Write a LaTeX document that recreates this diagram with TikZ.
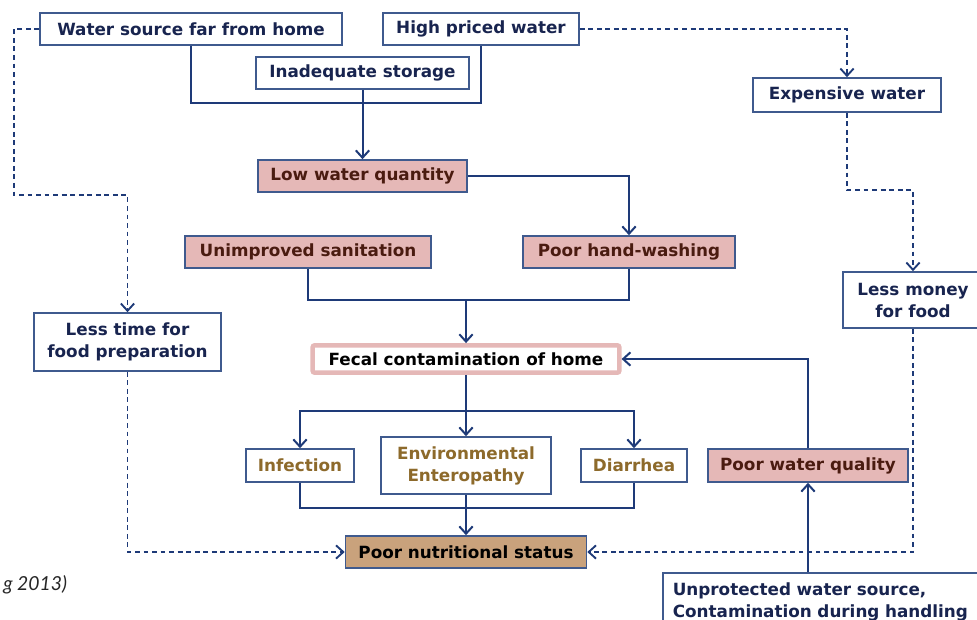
\documentclass[tikz,border=0pt]{standalone}
\usepackage{fontspec}
\setmainfont{DejaVu Sans}
\newfontfamily\citefont{Lato}
\usetikzlibrary{arrows.meta}
\definecolor{navy}{HTML}{1E3A78}
\definecolor{boxline}{HTML}{3F5A8E}
\definecolor{txtnavy}{HTML}{18244F}
\definecolor{pinkfill}{HTML}{E5B8B7}
\definecolor{pinktxt}{HTML}{4A1B10}
\definecolor{goldtxt}{HTML}{8D6A2B}
\definecolor{tanfill}{HTML}{C9A27C}
\tikzset{
  bx/.style={draw=boxline, line width=1.2pt, fill=white, inner sep=0pt, align=center,
    font=\bfseries\fontsize{12.6}{16.5}\selectfont, text=txtnavy},
  pbx/.style={bx, fill=pinkfill, text=pinktxt},
  gbx/.style={bx, text=goldtxt},
  conn/.style={draw=navy, line width=1.5pt, -{Straight Barb[length=5.5pt,width=10pt,line width=1.5pt]}},
  plain/.style={draw=navy, line width=1.5pt},
  dsh/.style={draw=navy, line width=1.4pt, dash pattern=on 3.6pt off 2.8pt,
    -{Straight Barb[length=5.5pt,width=10pt,line width=1.4pt]}},
}
\begin{document}
\begin{tikzpicture}[x=0.75pt,y=-0.75pt]
\useasboundingbox (0,0) rectangle (977,620);
\clip (0,0) rectangle (977,620);
% nodes
\node[bx, minimum width=226.5pt, minimum height=24pt] (ws) at (191,29) {Water source far from home};
\node[bx, minimum width=147pt, minimum height=24pt] (hp) at (481,29) {High priced water};
\node[bx, minimum width=159.75pt, minimum height=24pt] (st) at (362.5,73) {Inadequate storage};
\node[pbx, minimum width=156.75pt, minimum height=24pt] (lwq) at (362.5,176) {Low water quantity};
\node[pbx, minimum width=184.5pt, minimum height=24pt] (us) at (308,252) {Unimproved sanitation};
\node[pbx, minimum width=159pt, minimum height=24pt] (ph) at (629,252) {Poor hand-washing};
\node[bx, draw=pinkfill, line width=3.4pt, rounded corners=1.5pt, text=black,
      minimum width=230pt, minimum height=20.5pt] (fc) at (466,359) {Fecal contamination of home};
\node[bx, minimum width=140.25pt, minimum height=43.5pt] (lt) at (127.5,342) {Less time for\\food preparation};
\node[bx, minimum width=141pt, minimum height=25.5pt] (ew) at (847,95) {Expensive water};
\node[bx, minimum width=105pt, minimum height=42pt] (lm) at (913,300) {Less money\\for food};
\node[gbx, minimum width=81pt, minimum height=24.75pt] (inf) at (300,465.5) {Infection};
\node[gbx, minimum width=127.5pt, minimum height=42.75pt] (ee) at (466,465.5) {Environmental\\Enteropathy};
\node[gbx, minimum width=79.5pt, minimum height=24.75pt] (dia) at (634,465.5) {Diarrhea};
\node[bx, fill=tanfill, text=black, minimum width=180.75pt, minimum height=24pt] (pns) at (466,552) {Poor nutritional status};
\node[pbx, minimum width=150pt, minimum height=24.75pt] (pwq) at (808,465.5) {Poor water quality};
\node[bx, anchor=north west, align=left, text width=240pt, inner xsep=7.5pt,
      minimum width=255pt, minimum height=43.5pt] (uws) at (662,572) {Unprotected water source,\\Contamination during handling};
\node[anchor=west, inner sep=0pt, font=\citefont\itshape\fontsize{14.5}{16}\selectfont, text=black!85] (cite) at (3,585) {g 2013)};
% junction coordinates
\coordinate (j1) at (362.5,103);
\coordinate (j2) at (466,300);
\coordinate (j3) at (466,411);
\coordinate (j4) at (466,508);
\coordinate (d1) at (14,195);
\coordinate (d2) at (847,190);
% solid connectors
\draw[plain] (ws.south) |- (j1) -| (hp.south);
\draw[conn] (st.south) -- (lwq.north);
\draw[conn] (lwq.east) -| (ph.north);
\draw[plain] (us.south) |- (j2) -| (ph.south);
\draw[conn] (j2) -- (fc.north);
\draw[conn] (fc.south) -- (ee.north);
\draw[conn] (j3) -| (inf.north);
\draw[conn] (j3) -| (dia.north);
\draw[plain] (inf.south) |- (j4) -| (dia.south);
\draw[conn] (ee.south) -- (pns.north);
\draw[conn] (pwq.north) |- (fc.east);
\draw[conn] (pwq.south |- uws.north) -- (pwq.south);
% dashed connectors
\draw[dsh] (ws.west) -| (d1) -| (lt.north);
\draw[dsh] (lt.south) |- (pns.west);
\draw[dsh] (hp.east) -| (ew.north);
\draw[dsh] (ew.south) -- (d2) -| (lm.north);
\draw[dsh] (lm.south) |- (pns.east);
\end{tikzpicture}
\end{document}
